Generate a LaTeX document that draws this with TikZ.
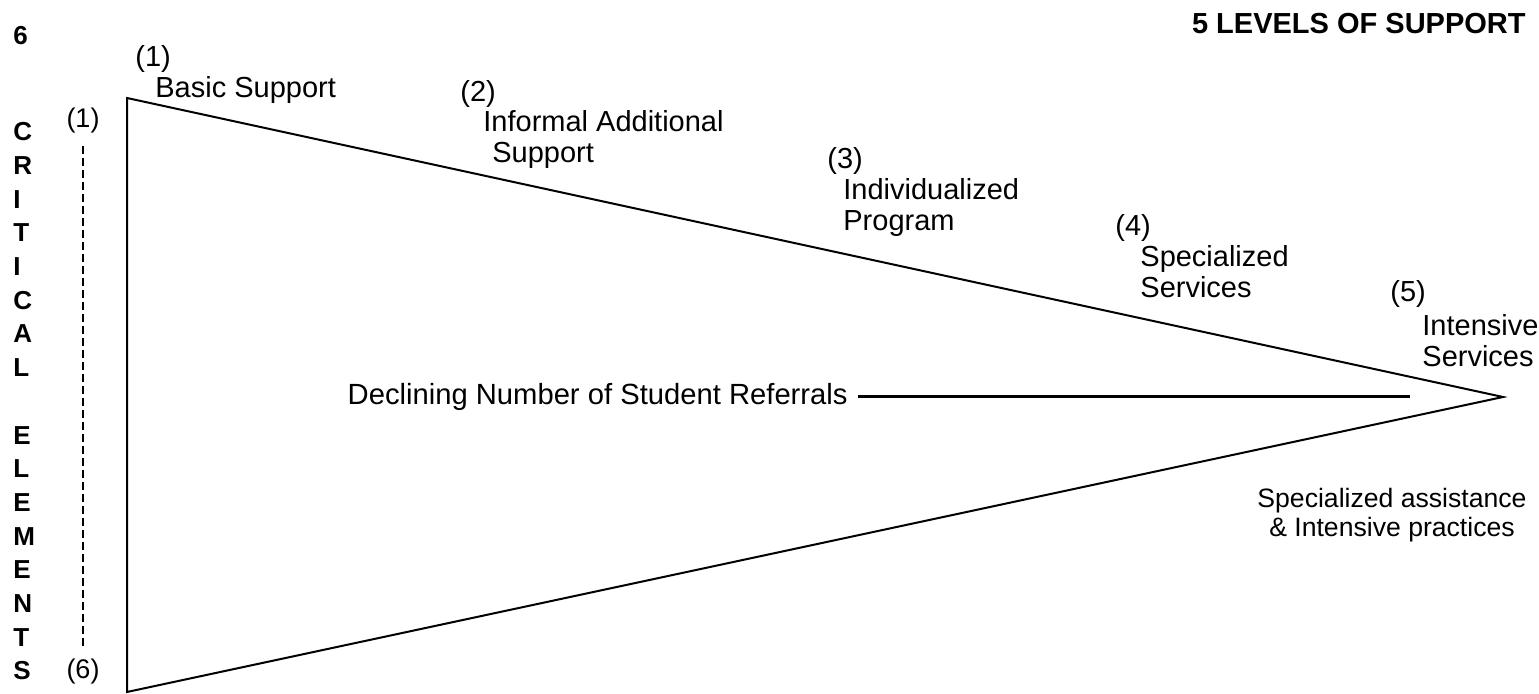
\documentclass[tikz,border=0pt]{standalone}
\usepackage{fontspec}
\setmainfont{Liberation Sans}
\begin{document}
\begin{tikzpicture}
[x=0.5pt,y=-0.5pt,%
  leveldecorate/.style={anchor=base west,inner sep=0pt,align=left,font=\fontsize{14.5}{15.5}\selectfont},%
  headdecorate/.style={anchor=base west,inner sep=0pt,align=left,font=\fontsize{13}{16.85}\selectfont\bfseries},%
  linedecorate/.style={-,line width=1pt,line join=miter},%
  dashdecorate/.style={-,line width=0.7pt,dash pattern=on 4pt off 2pt}]
\useasboundingbox (0,0) rectangle (1539,694);
%% corners of the triangle
\coordinate (top) at (127,98);
\coordinate (bottom) at (127,692);
\coordinate (tip) at (1503,397);
\coordinate (lineend) at (1410,397);
%% titles (base of the last line)
\node (six) at (13,45) [headdecorate] {6};
\node (critical) at (13,680) [headdecorate] {C\\R\\I\\T\\I\\C\\A\\L\\\mbox{}\\E\\L\\E\\M\\E\\N\\T\\S};
\node (levels) at (1526,34) [headdecorate,anchor=base east,font=\fontsize{14.5}{15}\selectfont\bfseries] {5 LEVELS OF SUPPORT};
%% elements range
\node (first) at (83,128) [anchor=base,font=\fontsize{13.5}{15}\selectfont] {(1)};
\node (last) at (83,679) [anchor=base,font=\fontsize{13.5}{15}\selectfont] {(6)};
%% levels
\node (n1) at (135,67) [leveldecorate] {(1)};
\node (lvl1) at (155,98) [leveldecorate] {Basic Support};
\node (n2) at (460,102) [leveldecorate] {(2)};
\node (lvl2) at (483,163) [leveldecorate] {Informal Additional\\\hspace*{4.5pt}Support};
\node (n3) at (827,169) [leveldecorate] {(3)};
\node (lvl3) at (843,231) [leveldecorate] {Individualized\\Program};
\node (n4) at (1115,236) [leveldecorate] {(4)};
\node (lvl4) at (1140,298) [leveldecorate] {Specialized\\Services};
\node (n5) at (1390,302) [leveldecorate] {(5)};
\node (lvl5) at (1422,367) [leveldecorate] {Intensive\\Services};
\node (assist) at (1392,537) [anchor=base,inner sep=0pt,align=center,font=\fontsize{13.3}{14.5}\selectfont] {Specialized assistance\\\& Intensive practices};
\node (referrals) at (858,397) [anchor=east,inner sep=5pt,font=\fontsize{14.6}{15}\selectfont] {Declining Number of Student Referrals};
%% edges or lines
\draw[linedecorate] (top) -- (tip) -- (bottom) -- cycle;
\path
(referrals) edge[linedecorate,line width=1.5pt] (lineend)
(first) edge[dashdecorate,shorten <=2.5pt,shorten >=2pt] (last);
\end{tikzpicture}
\end{document}
